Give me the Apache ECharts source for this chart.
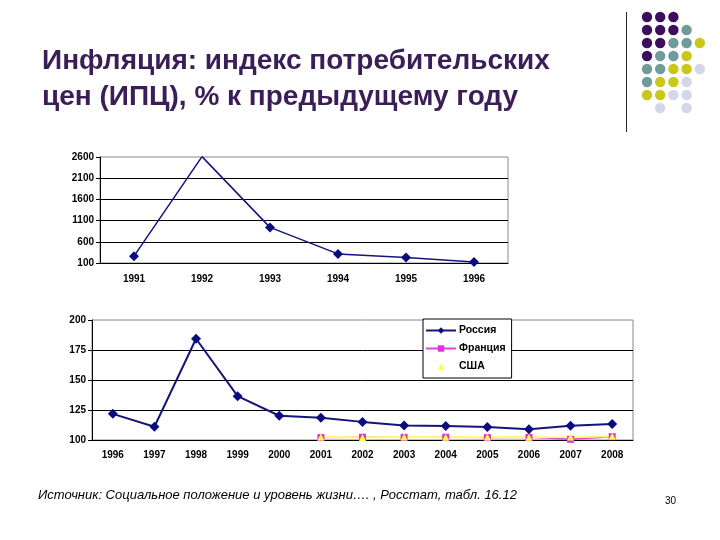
<!DOCTYPE html>
<html><head><meta charset="utf-8">
<script src="https://cdn.jsdelivr.net/npm/echarts@6/dist/echarts.min.js"></script>
<style>html,body{margin:0;padding:0;background:#fff}#c{width:720px;height:540px}</style>
</head><body><div id="c"></div>
<script>
// ---- data ----
const years1 = ['1991','1992','1993','1994','1995','1996'];
const russia1 = [260.4, 2608.8, 939.9, 315.1, 231.3, 121.8];
const yTicks1 = [100, 600, 1100, 1600, 2100, 2600];

const years2 = ['1996','1997','1998','1999','2000','2001','2002','2003','2004','2005','2006','2007','2008'];
const russia2 = [121.8, 111.0, 184.4, 136.5, 120.2, 118.6, 115.1, 112.0, 111.7, 110.9, 109.0, 111.9, 113.3];
const france  = [null, null, null, null, null, 102.1, 102.3, 102.2, 102.3, 102.0, 102.2, 100.6, 102.8];
const usa     = [null, null, null, null, null, 102.5, 102.0, 102.4, 102.3, 102.5, 102.3, 102.5, 103.1];
const yTicks2 = [100, 125, 150, 175, 200];

const titleText = 'Инфляция: индекс потребительских\nцен (ИПЦ), % к предыдущему году';
const sourceText = 'Источник: Социальное положение и уровень жизни…. , Росстат, табл. 16.12';
const pageNo = '30';

// decoration dot pattern: P purple, T teal, Y yellow, L lavender
const dotRows = ['PPP', 'PPPT', 'PPTTY', 'PTTY', 'TTYYL', 'TYYL', 'YYLL', '_L_L'];
const dotColors = {P:'#3d0d5e', T:'#6f9b9b', Y:'#c9c71c', L:'#d6d6ea'};

const chart = echarts.init(document.getElementById('c'), null, {renderer:'canvas'});
const FONT = 'Liberation Sans, Arial, sans-serif';

const graphics = [];
dotRows.forEach((row, r) => {
  for (let c = 0; c < row.length; c++) {
    const k = row[c];
    if (k === '_') continue;
    graphics.push({type:'circle', shape:{cx:647 + c*13.2, cy:17 + r*13, r:5.2}, style:{fill:dotColors[k]}, silent:true});
  }
});
graphics.push({type:'line', shape:{x1:626.5, y1:12, x2:626.5, y2:132}, style:{stroke:'#222', lineWidth:1}});
graphics.push({type:'text', left:38, top:489, style:{text:sourceText, font:'italic 13px ' + FONT, fill:'#000'}});
graphics.push({type:'text', left:665, top:496, style:{text:pageNo, font:'10px ' + FONT, fill:'#000'}});

const axisLbl = {fontFamily:FONT, fontSize:10, fontWeight:'bold', color:'#000', formatter:(v)=>String(v)};

chart.setOption({
  animation:false,
  backgroundColor:'#fff',
  title:{text:titleText, left:42, top:43, padding:0, textStyle:{fontFamily:FONT, fontSize:28, fontWeight:'bold', color:'#3b1d58', lineHeight:36}},
  graphic:graphics,
  legend:{
    orient:'vertical', left:423, top:319, itemWidth:30, itemHeight:8, itemGap:7,
    padding:[6,6,6,2], borderColor:'#000', borderWidth:1, backgroundColor:'#fff',
    textStyle:{fontFamily:FONT, fontSize:10.5, fontWeight:'bold', color:'#000', padding:[0,0,0,-2]},
    data:[{name:'Россия'},{name:'Франция'},{name:'США', lineStyle:{opacity:0, width:0}}]
  },
  grid:[
    {left:100, top:157, right:212, bottom:277, show:true, borderColor:'#888', borderWidth:1, backgroundColor:'transparent'},
    {left:92, top:320, right:87, bottom:100, show:true, borderColor:'#888', borderWidth:1, backgroundColor:'transparent'}
  ],
  xAxis:[
    {type:'category', gridIndex:0, data:years1, boundaryGap:true,
     axisLine:{lineStyle:{color:'#000', width:1}}, axisTick:{length:4, lineStyle:{color:'#000'}},
     axisLabel:Object.assign({}, axisLbl, {margin:11})},
    {type:'category', gridIndex:1, data:years2, boundaryGap:true,
     axisLine:{lineStyle:{color:'#000', width:1}}, axisTick:{length:4, lineStyle:{color:'#000'}},
     axisLabel:Object.assign({}, axisLbl, {margin:10})}
  ],
  yAxis:[
    {type:'value', gridIndex:0, min:yTicks1[0], max:yTicks1[yTicks1.length-1], interval:yTicks1[1]-yTicks1[0],
     axisLine:{show:true, lineStyle:{color:'#000'}}, axisTick:{show:true, length:4, lineStyle:{color:'#000'}},
     splitLine:{show:true, showMaxLine:false, lineStyle:{color:'#000', width:1}},
     axisLabel:Object.assign({}, axisLbl, {margin:6})},
    {type:'value', gridIndex:1, min:yTicks2[0], max:yTicks2[yTicks2.length-1], interval:yTicks2[1]-yTicks2[0],
     axisLine:{show:true, lineStyle:{color:'#000'}}, axisTick:{show:true, length:4, lineStyle:{color:'#000'}},
     splitLine:{show:true, showMaxLine:false, lineStyle:{color:'#000', width:1}},
     axisLabel:Object.assign({}, axisLbl, {margin:6})}
  ],
  series:[
    {name:'Россия1', type:'line', xAxisIndex:0, yAxisIndex:0, data:russia1, symbol:'diamond', symbolSize:10,
     lineStyle:{color:'#14147a', width:1.5}, itemStyle:{color:'#0b0b80'}},
    {name:'Франция', type:'line', xAxisIndex:1, yAxisIndex:1, data:france, symbol:'rect', symbolSize:7,
     lineStyle:{color:'#e040e0', width:1.5}, itemStyle:{color:'#e030e0'}},
    {name:'США', type:'line', xAxisIndex:1, yAxisIndex:1, data:usa, symbol:'triangle', symbolSize:7,
     lineStyle:{color:'#ffff70', width:2}, itemStyle:{color:'#ffff40'}},
    {name:'Россия', type:'line', xAxisIndex:1, yAxisIndex:1, data:russia2, symbol:'diamond', symbolSize:10,
     lineStyle:{color:'#14147a', width:2}, itemStyle:{color:'#0b0b80'}}
  ]
});
</script></body></html>
